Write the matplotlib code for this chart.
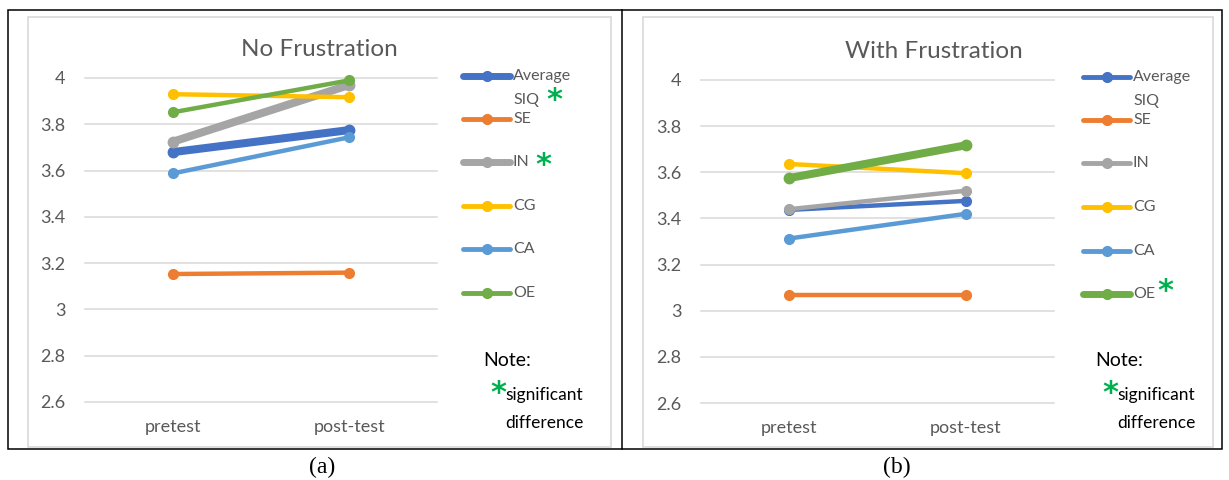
import matplotlib.pyplot as plt
from matplotlib.lines import Line2D
from matplotlib.patches import Rectangle

plt.rcParams['font.family'] = ['Lato', 'DejaVu Sans']

categories = ['pretest', 'post-test']
series_names = ['Average\nSIQ', 'SE', 'IN', 'CG', 'CA', 'OE']
couleurs = ['#4472C4', '#ED7D31', '#A5A5A5', '#FFC000', '#5B9BD5', '#70AD47']

# No Frustration
nf_avg = [3.68, 3.775]
nf_se = [3.153, 3.159]
nf_in = [3.725, 3.97]
nf_cg = [3.93, 3.917]
nf_ca = [3.588, 3.744]
nf_oe = [3.852, 3.99]
nf_significant = ['Average\nSIQ', 'IN']

# With Frustration
wf_avg = [3.437, 3.476]
wf_se = [3.066, 3.066]
wf_in = [3.44, 3.52]
wf_cg = [3.636, 3.596]
wf_ca = [3.313, 3.42]
wf_oe = [3.575, 3.717]
wf_significant = ['OE']

yticks = [2.6, 2.8, 3.0, 3.2, 3.4, 3.6, 3.8, 4.0]

W, H = 1229, 480
fig = plt.figure(figsize=(W / 100, H / 100), dpi=100)
VERT = '#00B050'


def fx(x):
    return x / W


def fy(y):
    return 1 - y / H


def etoile(x, y):
    # x = left edge, y = glyph centre (pixels)
    fig.text(fx(x), fy(y + 17), '*', fontsize=22, color=VERT, fontweight='bold',
             family='DejaVu Sans', va='baseline', ha='left')


def panneau(x0, y_top, x1, y_bot, titre, titre_pos, valeurs, signif, leg_x, leg_y,
            etoiles, note_x, caption, cap_x):
    ax = fig.add_axes([fx(x0), fy(y_bot), fx(x1) - fx(x0), fy(y_top) - fy(y_bot)])
    ax.set_xlim(-0.5, 1.5)
    ax.set_ylim(2.6, 4.0)
    for t in yticks:
        ax.axhline(t, color='#D9D9D9', lw=1.1, zorder=0, clip_on=False)
    for nom, vals, c in zip(series_names, valeurs, couleurs):
        epais = nom in signif
        ax.plot([0, 1], vals, color=c, lw=5.8 if epais else 3.2, marker='o',
                ms=7.5 if epais else 7, solid_capstyle='round', clip_on=False)
    for s in ax.spines.values():
        s.set_visible(False)
    ax.set_yticks(yticks)
    ax.set_yticklabels(['%g' % t for t in yticks])
    ax.set_xticks([0, 1])
    ax.set_xticklabels(categories)
    ax.tick_params(length=0, colors='#595959', labelsize=13)
    ax.tick_params(axis='y', pad=14)
    ax.tick_params(axis='x', pad=12)
    fig.text(fx(titre_pos[0]), fy(titre_pos[1]), titre, fontsize=17.5, color='#595959',
             ha='center', va='center')

    # legend
    for i, (nom, c) in enumerate(zip(series_names, couleurs)):
        y = leg_y[i]
        epais = nom in signif
        fig.add_artist(Line2D([fx(leg_x), fx(leg_x + 47)], [fy(y), fy(y)], color=c,
                              lw=5 if epais else 3.5, solid_capstyle='round'))
        fig.add_artist(Line2D([fx(leg_x + 23.5)], [fy(y)], color=c, marker='o', ms=7))
        for k, part in enumerate(nom.split('\n')):
            fig.text(fx(leg_x + 50), fy(y + k * 24), part, fontsize=11.5, color='#595959',
                     va='center', ha='left')
    for ex, ey in etoiles:
        etoile(ex, ey)

    fig.text(fx(note_x), fy(360), 'Note:', fontsize=14, color='black', va='center')
    etoile(note_x + 7, 385)
    fig.text(fx(note_x + 22), fy(395), 'significant', fontsize=12.5, color='black', va='center')
    fig.text(fx(note_x + 22), fy(423), 'difference', fontsize=12.5, color='black', va='center')
    fig.text(fx(cap_x), fy(467), caption, fontsize=17, family='Liberation Serif',
             ha='center', va='center')
    return ax


panneau(85, 78, 437.5, 402, 'No Frustration', (319, 49),
        [nf_avg, nf_se, nf_in, nf_cg, nf_ca, nf_oe], nf_significant,
        463, [76, 119, 162, 206, 249, 293], [(546, 92), (535, 157)],
        483, '(a)', 322)
panneau(701, 80, 1054, 403, 'With Frustration', (934, 52),
        [wf_avg, wf_se, wf_in, wf_cg, wf_ca, wf_oe], wf_significant,
        1083, [77, 120, 163, 207, 251, 294], [(1157, 283)],
        1095, '(b)', 897)

# chart frames
for x0, x1 in [(28, 611), (643, 1213)]:
    fig.add_artist(Rectangle((fx(x0), fy(447)), fx(x1) - fx(x0), fy(17) - fy(447),
                             transform=fig.transFigure, fill=False, ec='#D9D9D9', lw=1.2))
# table border
fig.add_artist(Rectangle((fx(8), fy(449)), fx(1222) - fx(8), fy(10) - fy(449),
                         transform=fig.transFigure, fill=False, ec='black', lw=1.1))
fig.add_artist(Line2D([fx(622), fx(622)], [fy(10), fy(449)], color='black', lw=1.1))

fig.savefig('out.png', dpi=100)
